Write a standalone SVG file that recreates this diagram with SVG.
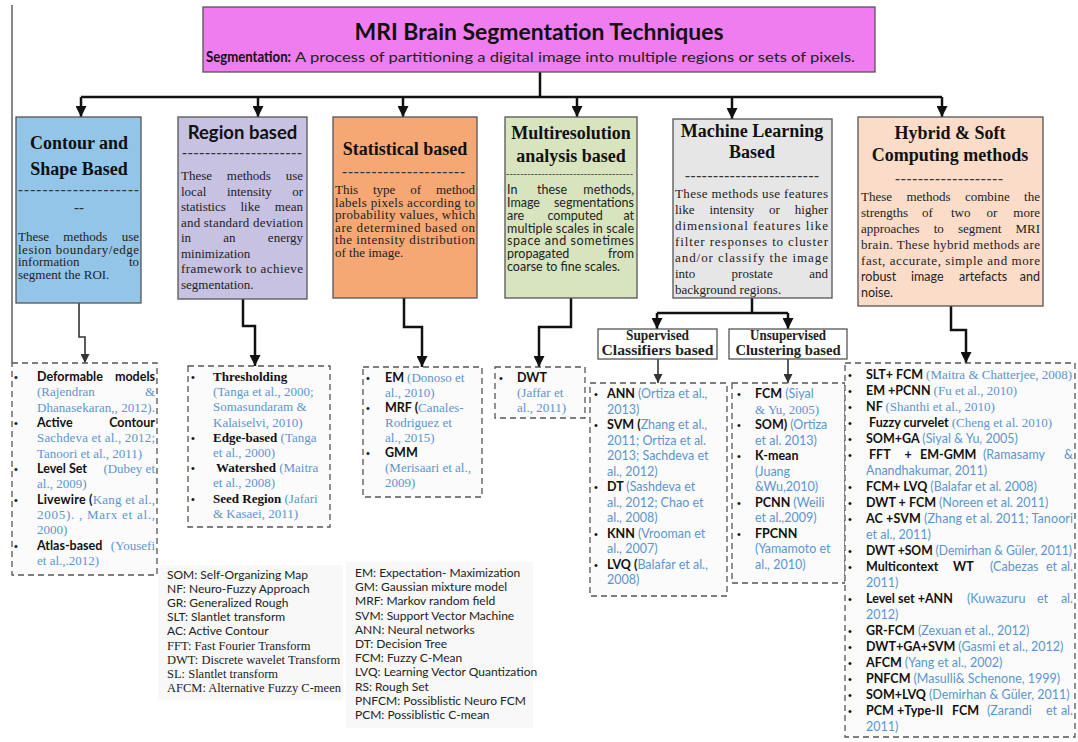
<svg xmlns="http://www.w3.org/2000/svg" width="1078" height="742" viewBox="0 0 1078 742">
<defs>
<style>
.ttl{font-family:"Liberation Serif","Times New Roman",serif;font-weight:bold;font-size:18px;fill:#111;text-anchor:middle}
.bd{font-family:"Liberation Serif","Times New Roman",serif;font-size:13px;fill:#222}
.bds{font-family:Lato,"Liberation Sans",sans-serif;font-size:12.5px;fill:#222}
.dash{font-family:"Liberation Serif",serif;font-weight:bold;font-size:15px;fill:#333}
.box{stroke:#555;stroke-width:1.3}
.lst{fill:#fbfbfb;stroke:#555;stroke-width:1.3;stroke-dasharray:6 4}
.li{font-family:Lato,"Liberation Sans",sans-serif;font-size:12.5px;fill:#111}
.lis{font-family:"Liberation Serif",serif;font-size:13px;fill:#111}
.b{font-weight:bold}
.ref{fill:#5b95cf;font-weight:normal}
.rs{font-family:"Liberation Serif",serif;font-size:13px}
.bu{font-family:"Liberation Sans",sans-serif;font-size:11px;fill:#111}
.con{fill:none;stroke:#111;stroke-width:2.5}
.con2{fill:none;stroke:#333;stroke-width:1.6}
.leg{font-family:Lato,"Liberation Sans",sans-serif;font-size:12px;fill:#222}
.legs{font-family:"Liberation Serif",serif;font-size:12.5px;fill:#222}
.sub{font-family:"Liberation Serif",serif;font-weight:bold;font-size:14px;fill:#222;text-anchor:middle}
.m{text-anchor:middle}
.e{text-anchor:end}
</style>
<marker id="ah" markerUnits="userSpaceOnUse" markerWidth="11" markerHeight="11" refX="10" refY="5" orient="auto" viewBox="0 0 10 10"><path d="M0,0 L10,5 L0,10 z" fill="#111"/></marker>
<marker id="ah2" markerUnits="userSpaceOnUse" markerWidth="9" markerHeight="9" refX="10" refY="5" orient="auto" viewBox="0 0 10 10"><path d="M0,0 L10,5 L0,10 z" fill="#333"/></marker>
</defs>
<rect width="1078" height="742" fill="#fff"/>
<line x1="12" y1="5" x2="12" y2="363" stroke="#888" stroke-width="2"/>

<g id="connectors">
<path class="con" d="M540,72 V97"/>
<path class="con" d="M81,97 H942"/>
<path class="con" d="M81,97 V117" marker-end="url(#ah)"/>
<path class="con" d="M258,97 V117" marker-end="url(#ah)"/>
<path class="con" d="M403,97 V117" marker-end="url(#ah)"/>
<path class="con" d="M577,97 V117" marker-end="url(#ah)"/>
<path class="con" d="M732,97 V119" marker-end="url(#ah)"/>
<path class="con" d="M942,97 V117" marker-end="url(#ah)"/>
<path class="con2" d="M79,303 V337 H85 V363" marker-end="url(#ah2)"/>
<path class="con" d="M243,299 V326 H255 V366" marker-end="url(#ah)"/>
<path class="con" d="M404,298 V327 H422 V367" marker-end="url(#ah)"/>
<path class="con" d="M571,298 V327 H539 V367" marker-end="url(#ah)"/>
<path class="con" d="M752,298 V313"/>
<path class="con" d="M657,313 H788"/>
<path class="con" d="M657,313 V329" marker-end="url(#ah)"/>
<path class="con" d="M788,313 V329" marker-end="url(#ah)"/>
<path class="con2" d="M658,359 V383" marker-end="url(#ah2)"/>
<path class="con2" d="M788,359 V383" marker-end="url(#ah2)"/>
<path class="con" d="M951,306 V330 H966 V363" marker-end="url(#ah)"/>
</g>

<g id="root">
<rect x="203" y="7" width="672" height="65" fill="#f07df0" class="box"/>
<text x="539" y="40" font-family="Lato,'Liberation Sans',sans-serif" font-weight="bold" font-size="22" fill="#111" text-anchor="middle" textLength="369" lengthAdjust="spacingAndGlyphs">MRI Brain Segmentation Techniques</text>
<text x="206" y="62" font-family="Lato,'Liberation Sans',sans-serif" font-weight="bold" font-size="15.5" fill="#111" textLength="85" lengthAdjust="spacingAndGlyphs">Segmentation:</text>
<text x="295" y="62" font-family="Lato,'Liberation Sans',sans-serif" font-size="14" fill="#222" textLength="560" lengthAdjust="spacingAndGlyphs">A process of partitioning a digital image into multiple regions or sets of pixels.</text>
</g>

<g id="contour">
<rect x="16" y="117" width="125" height="186" fill="#92c5e8" class="box"/>
<text class="ttl" x="79" y="149">Contour and</text>
<text class="ttl" x="79" y="175">Shape Based</text>
<text class="dash" x="18" y="194" textLength="121" lengthAdjust="spacing">--------------------</text>
<text class="dash m" x="79" y="212">--</text>
<text class="bd" x="18" y="241">These</text><text class="bd" x="63.3" y="241">methods</text><text class="bd e" x="139" y="241">use</text>
<text class="bd" x="18" y="253.5" textLength="121" lengthAdjust="spacing">lesion boundary/edge</text>
<text class="bd" x="18" y="266">information</text><text class="bd e" x="139" y="266">to</text>
<text class="bd" x="18" y="278.5">segment the ROI.</text>
</g>

<g id="region">
<rect x="178" y="117" width="129" height="182" fill="#c7c1e2" class="box"/>
<text x="242.5" y="139" font-family="Lato,'Liberation Sans',sans-serif" font-weight="bold" font-size="18.5" fill="#111" text-anchor="middle">Region based</text>
<text class="dash" x="182" y="157" font-size="13" textLength="120" lengthAdjust="spacing">---------------------</text>
<text class="bd" x="181" y="180">These</text><text class="bd" x="226.8" y="180">methods</text><text class="bd e" x="303" y="180">use</text>
<text class="bd" x="181" y="195.5">local</text><text class="bd" x="226.9" y="195.5">intensity</text><text class="bd e" x="303" y="195.5">or</text>
<text class="bd" x="181" y="211">statistics</text><text class="bd" x="240.5" y="211">like</text><text class="bd e" x="303" y="211">mean</text>
<text class="bd" x="181" y="226.5" textLength="122" lengthAdjust="spacing">and standard deviation</text>
<text class="bd" x="181" y="242">in</text><text class="bd" x="223.2" y="242">an</text><text class="bd e" x="303" y="242">energy</text>
<text class="bd" x="181" y="257.5">minimization</text>
<text class="bd" x="181" y="273" textLength="122" lengthAdjust="spacing">framework to achieve</text>
<text class="bd" x="181" y="288.5">segmentation.</text>
</g>

<g id="statistical">
<rect x="333" y="117" width="144" height="181" fill="#f5a874" class="box"/>
<text class="ttl" x="405" y="155">Statistical based</text>
<text class="dash" x="342" y="176" font-size="13" textLength="123" lengthAdjust="spacing">---------------------</text>
<text class="bd" x="335" y="194">This</text><text class="bd" x="373" y="194">type</text><text class="bd" x="410.3" y="194">of</text><text class="bd e" x="475" y="194">method</text>
<text class="bd" x="335" y="206.5" textLength="140" lengthAdjust="spacing">labels pixels according to</text>
<text class="bd" x="335" y="219" textLength="140" lengthAdjust="spacing">probability values, which</text>
<text class="bd" x="335" y="231.5" textLength="140" lengthAdjust="spacing">are determined based on</text>
<text class="bd" x="335" y="244" textLength="140" lengthAdjust="spacing">the intensity distribution</text>
<text class="bd" x="335" y="256.5">of the image.</text>
</g>

<g id="multiresolution">
<rect x="505" y="117" width="132" height="181" fill="#d8e4bd" class="box"/>
<text class="ttl" x="571" y="139">Multiresolution</text>
<text class="ttl" x="571" y="162">analysis based</text>
<text x="506" y="177" font-family="'Liberation Serif',serif" font-size="10" fill="#444" textLength="127" lengthAdjust="spacing">------------------------------------</text>
<text class="bds" x="507" y="194">In</text><text class="bds" x="537" y="194">these</text><text class="bds e" x="634" y="194">methods,</text>
<text class="bds" x="507" y="207">Image</text><text class="bds e" x="634" y="207">segmentations</text>
<text class="bds" x="507" y="220">are</text><text class="bds" x="547.5" y="220">computed</text><text class="bds e" x="634" y="220">at</text>
<text class="bds" x="507" y="232.5" textLength="127" lengthAdjust="spacing">multiple scales in scale</text>
<text class="bds" x="507" y="245" textLength="127" lengthAdjust="spacing">space and sometimes</text>
<text class="bds" x="507" y="258">propagated</text><text class="bds e" x="634" y="258">from</text>
<text class="bds" x="507" y="271">coarse to fine scales.</text>
</g>

<g id="machine-learning">
<rect x="673" y="119" width="159" height="179" fill="#e6e6e6" class="box"/>
<text class="ttl" x="752" y="137">Machine Learning</text>
<text class="ttl" x="752" y="158">Based</text>
<text class="dash" x="685" y="180" font-size="13" textLength="134" lengthAdjust="spacing">------------------------</text>
<text class="bd" x="675" y="198" textLength="153" lengthAdjust="spacing">These methods use features</text>
<text class="bd" x="675" y="214">like</text><text class="bd" x="709.4" y="214">intensity</text><text class="bd" x="769" y="214">or</text><text class="bd e" x="828" y="214">higher</text>
<text class="bd" x="675" y="230" textLength="153" lengthAdjust="spacing">dimensional features like</text>
<text class="bd" x="675" y="246" textLength="153" lengthAdjust="spacing">filter responses to cluster</text>
<text class="bd" x="675" y="262" textLength="153" lengthAdjust="spacing">and/or classify the image</text>
<text class="bd" x="675" y="278">into</text><text class="bd" x="731.6" y="278">prostate</text><text class="bd e" x="828" y="278">and</text>
<text class="bd" x="675" y="294">background regions.</text>
</g>

<g id="hybrid">
<rect x="858" y="117" width="185" height="189" fill="#fbdcc9" class="box"/>
<text class="ttl" x="950" y="139">Hybrid &amp; Soft</text>
<text class="ttl" x="950" y="161">Computing methods</text>
<text class="dash" x="895" y="183" font-size="13" textLength="108" lengthAdjust="spacing">-------------------</text>
<text class="bd" x="861" y="201">These</text><text class="bd" x="906.4" y="201">methods</text><text class="bd" x="964.9" y="201">combine</text><text class="bd e" x="1040" y="201">the</text>
<text class="bd" x="861" y="217">strengths</text><text class="bd" x="922" y="217">of</text><text class="bd" x="950.9" y="217">two</text><text class="bd" x="986.5" y="217">or</text><text class="bd e" x="1040" y="217">more</text>
<text class="bd" x="861" y="233">approaches</text><text class="bd" x="933.7" y="233">to</text><text class="bd" x="958" y="233">segment</text><text class="bd e" x="1040" y="233">MRI</text>
<text class="bd" x="861" y="249" textLength="179" lengthAdjust="spacing">brain. These hybrid methods are</text>
<text class="bd" x="861" y="265" textLength="179" lengthAdjust="spacing">fast, accurate, simple and more</text>
<text class="bds" x="861" y="281">robust</text><text class="bds" x="911" y="281">image</text><text class="bds" x="959" y="281">artefacts</text><text class="bds e" x="1040" y="281">and</text>
<text class="bds" x="861" y="297">noise.</text>
</g>

<g id="supervised">
<rect x="598" y="329" width="119" height="30" fill="#fff" class="box"/>
<text class="sub" x="657.5" y="340" textLength="63" lengthAdjust="spacingAndGlyphs">Supervised</text>
<text class="sub" x="657.5" y="355" textLength="112" lengthAdjust="spacingAndGlyphs">Classifiers based</text>
</g>
<g id="unsupervised">
<rect x="729" y="329" width="118" height="30" fill="#fff" class="box"/>
<text class="sub" x="788" y="340" textLength="76" lengthAdjust="spacingAndGlyphs">Unsupervised</text>
<text class="sub" x="788" y="355" textLength="105" lengthAdjust="spacingAndGlyphs">Clustering based</text>
</g>

<g id="contour-list">
<rect x="12" y="363" width="145" height="212" class="lst"/>
<text class="bu" x="14" y="381">•</text><text class="li b" x="37" y="381" font-size="13">Deformable</text><text class="li b e" x="155" y="381" font-size="13">models</text>
<text class="rs ref" x="37" y="396.3">(Rajendran</text><text class="rs ref e" x="155" y="396.3">&amp;</text>
<text class="rs ref" x="37" y="411.7" textLength="118" lengthAdjust="spacing">Dhanasekaran,, 2012).</text>
<text class="bu" x="14" y="427">•</text><text class="li b" x="37" y="427" font-size="13">Active</text><text class="li b e" x="155" y="427" font-size="13">Contour</text>
<text class="rs ref" x="37" y="442.3" textLength="118" lengthAdjust="spacing">Sachdeva et al., 2012;</text>
<text class="rs ref" x="37" y="457.7">Tanoori et al., 2011)</text>
<text class="bu" x="14" y="473">•</text><text class="li b" x="37" y="473" font-size="13">Level Set</text><text class="rs ref e" x="155" y="473">(Dubey et</text>
<text class="rs ref" x="37" y="488.3">al., 2009)</text>
<text class="bu" x="14" y="503.7">•</text><text class="li b" x="37" y="503.7" font-size="13" textLength="118" lengthAdjust="spacing">Livewire (<tspan class="rs ref">Kang et al.,</tspan></text>
<text class="rs ref" x="37" y="519" textLength="118" lengthAdjust="spacing">2005). , Marx et al.,</text>
<text class="rs ref" x="37" y="534.3">2000)</text>
<text class="bu" x="14" y="549.7">•</text><text class="li b" x="37" y="549.7" font-size="13">Atlas-based</text><text class="rs ref e" x="155" y="549.7">(Yousefi</text>
<text class="rs ref" x="37" y="565">et al.,.2012)</text>
</g>

<g id="region-list">
<rect x="188" y="366" width="142" height="161" class="lst"/>
<text class="bu" x="191" y="381">•</text><text class="lis b" x="213" y="381">Thresholding</text>
<text class="rs ref" x="213" y="396.2">(Tanga et al., 2000;</text>
<text class="rs ref" x="213" y="411.4">Somasundaram &amp;</text>
<text class="rs ref" x="213" y="426.6">Kalaiselvi, 2010)</text>
<text class="bu" x="191" y="441.8">•</text><text class="lis b" x="213" y="441.8">Edge-based <tspan class="ref">(Tanga</tspan></text>
<text class="rs ref" x="213" y="457">et al., 2000)</text>
<text class="bu" x="191" y="472.2">•</text><text class="lis b" x="216" y="472.2">Watershed <tspan class="ref">(Maitra</tspan></text>
<text class="rs ref" x="213" y="487.4">et al., 2008)</text>
<text class="bu" x="191" y="502.6">•</text><text class="lis b" x="213" y="502.6">Seed Region <tspan class="ref">(Jafari</tspan></text>
<text class="rs ref" x="213" y="517.8">&amp; Kasaei, 2011)</text>
</g>

<g id="statistical-list">
<rect x="363" y="367" width="119" height="130" class="lst"/>
<text class="bu" x="366" y="382">•</text><text class="li b" x="385" y="382">EM <tspan class="rs ref">(Donoso et</tspan></text>
<text class="rs ref" x="385" y="397">al., 2010)</text>
<text class="bu" x="366" y="412">•</text><text class="li b" x="385" y="412">MRF (<tspan class="rs ref">Canales-</tspan></text>
<text class="rs ref" x="385" y="427">Rodriguez et</text>
<text class="rs ref" x="385" y="442">al., 2015)</text>
<text class="bu" x="366" y="457">•</text><text class="li b" x="385" y="457">GMM</text>
<text class="rs ref" x="385" y="472">(Merisaari et al.,</text>
<text class="rs ref" x="385" y="487">2009)</text>
</g>

<g id="multiresolution-list">
<rect x="495" y="367" width="90" height="51" class="lst"/>
<text class="bu" x="499" y="382">•</text><text class="li b" x="517" y="382">DWT</text>
<text class="rs ref" x="517" y="397">(Jaffar et</text>
<text class="rs ref" x="517" y="412">al., 2011)</text>
</g>

<g id="supervised-list">
<rect x="590" y="383" width="137" height="213" class="lst"/>
<text class="bu" x="594" y="398">•</text><text class="li b" x="607" y="398">ANN <tspan class="ref">(Ortiza et al.,</tspan></text>
<text class="li ref" x="607" y="413.5">2013)</text>
<text class="bu" x="594" y="429">•</text><text class="li b" x="607" y="429">SVM (<tspan class="ref">Zhang et al.,</tspan></text>
<text class="li ref" x="607" y="444.5">2011; Ortiza et al.</text>
<text class="li ref" x="607" y="460">2013; Sachdeva et</text>
<text class="li ref" x="607" y="475.5">al., 2012)</text>
<text class="bu" x="594" y="491">•</text><text class="li b" x="607" y="491">DT  <tspan class="ref">(Sashdeva et</tspan></text>
<text class="li ref" x="607" y="506.5">al., 2012; Chao et</text>
<text class="li ref" x="607" y="522">al., 2008)</text>
<text class="bu" x="594" y="537.5">•</text><text class="li b" x="607" y="537.5">KNN <tspan class="ref">(Vrooman et</tspan></text>
<text class="li ref" x="607" y="553">al., 2007)</text>
<text class="bu" x="594" y="568.5">•</text><text class="li b" x="607" y="568.5">LVQ (<tspan class="ref">Balafar et al.,</tspan></text>
<text class="li ref" x="607" y="584">2008)</text>
</g>

<g id="unsupervised-list">
<rect x="732" y="383" width="113" height="200" class="lst"/>
<text class="bu" x="737" y="398">•</text><text class="li b" x="755" y="398">FCM <tspan class="ref">(Siyal</tspan></text>
<text class="rs ref" x="755" y="413.5">&amp; Yu, 2005)</text>
<text class="bu" x="737" y="429">•</text><text class="li b" x="755" y="429">SOM) <tspan class="ref">(Ortiza</tspan></text>
<text class="li ref" x="755" y="444.5">et al. 2013)</text>
<text class="bu" x="737" y="460">•</text><text class="li b" x="755" y="460">K-mean</text>
<text class="li ref" x="755" y="475.5">(Juang</text>
<text class="li ref" x="755" y="491">&amp;Wu,2010)</text>
<text class="bu" x="737" y="506.5">•</text><text class="li b" x="755" y="506.5">PCNN  <tspan class="ref">(Weili</tspan></text>
<text class="li ref" x="755" y="522">et al.,2009)</text>
<text class="bu" x="737" y="537.5">•</text><text class="li b" x="755" y="537.5">FPCNN</text>
<text class="li ref" x="755" y="553">(Yamamoto et</text>
<text class="li ref" x="755" y="568.5">al., 2010)</text>
</g>

<g id="hybrid-list">
<rect x="845" y="363" width="230" height="374" class="lst"/>
<text class="bu" x="848" y="379">•</text><text class="li b" x="866" y="379" textLength="206" lengthAdjust="spacing">SLT+ FCM <tspan class="rs ref">(Maitra &amp; Chatterjee, 2008)</tspan></text>
<text class="bu" x="848" y="395">•</text><text class="li b" x="866" y="395">EM +PCNN <tspan class="rs ref">(Fu et al., 2010)</tspan></text>
<text class="bu" x="848" y="411">•</text><text class="li b" x="866" y="411">NF <tspan class="rs ref">(Shanthi et al., 2010)</tspan></text>
<text class="bu" x="848" y="427">•</text><text class="li b" x="869" y="427">Fuzzy curvelet  <tspan class="rs ref">(Cheng et al. 2010)</tspan></text>
<text class="bu" x="848" y="443">•</text><text class="li b" x="866" y="443">SOM+GA <tspan class="ref">(Siyal &amp; Yu, 2005)</tspan></text>
<text class="bu" x="848" y="459">•</text><text class="li b" x="869" y="459">FFT</text><text class="li b m" x="908" y="459">+</text><text class="li b" x="920" y="459">EM-GMM</text><text class="li ref" x="983" y="459">(Ramasamy</text><text class="li ref e" x="1073" y="459">&amp;</text>
<text class="li ref" x="866" y="475">Anandhakumar, 2011)</text>
<text class="bu" x="848" y="491">•</text><text class="li b" x="866" y="491">FCM+ LVQ <tspan class="ref">(Balafar et al. 2008)</tspan></text>
<text class="bu" x="848" y="507">•</text><text class="li b" x="866" y="507">DWT + FCM <tspan class="ref">(Noreen et al. 2011)</tspan></text>
<text class="bu" x="848" y="523">•</text><text class="li b" x="866" y="523" textLength="207" lengthAdjust="spacing">AC +SVM <tspan class="ref">(Zhang et al. 2011; Tanoori</tspan></text>
<text class="li ref" x="866" y="539">et al., 2011)</text>
<text class="bu" x="848" y="555">•</text><text class="li b" x="866" y="555" textLength="206" lengthAdjust="spacingAndGlyphs">DWT +SOM <tspan class="ref">(Demirhan &amp; Güler, 2011)</tspan></text>
<text class="bu" x="848" y="571">•</text><text class="li b" x="866" y="571">Multicontext</text><text class="li b" x="953" y="571">WT</text><text class="li ref" x="990" y="571">(Cabezas</text><text class="li ref" x="1046" y="571">et</text><text class="li ref e" x="1073" y="571">al.</text>
<text class="li ref" x="866" y="587">2011)</text>
<text class="bu" x="848" y="603">•</text><text class="li b" x="866" y="603">Level set +ANN</text><text class="li ref" x="967" y="603">(Kuwazuru</text><text class="li ref" x="1037" y="603">et</text><text class="li ref e" x="1073" y="603">al.</text>
<text class="li ref" x="866" y="619">2012)</text>
<text class="bu" x="848" y="635">•</text><text class="li b" x="866" y="635">GR-FCM <tspan class="ref">(Zexuan et al., 2012)</tspan></text>
<text class="bu" x="848" y="651">•</text><text class="li b" x="866" y="651">DWT+GA+SVM <tspan class="ref">(Gasmi et al., 2012)</tspan></text>
<text class="bu" x="848" y="667">•</text><text class="li b" x="866" y="667">AFCM <tspan class="ref">(Yang et al., 2002)</tspan></text>
<text class="bu" x="848" y="683">•</text><text class="li b" x="866" y="683">PNFCM <tspan class="ref">(Masulli&amp; Schenone, 1999)</tspan></text>
<text class="bu" x="848" y="699">•</text><text class="li b" x="866" y="699">SOM+LVQ <tspan class="ref">(Demirhan &amp; Güler, 2011)</tspan></text>
<text class="bu" x="848" y="715">•</text><text class="li b" x="866" y="715">PCM</text><text class="li b" x="897" y="715">+Type-II</text><text class="li b" x="952" y="715">FCM</text><text class="li ref" x="987" y="715">(Zarandi</text><text class="li ref" x="1046" y="715">et</text><text class="li ref e" x="1073" y="715">al.</text>
<text class="li ref" x="866" y="731">2011)</text>
</g>

<g id="legend-left">
<rect x="158" y="565" width="185" height="135" fill="#f8f8f8"/>
<text class="leg" x="167" y="579">SOM: Self-Organizing Map</text>
<text class="leg" x="167" y="593.1">NF: Neuro-Fuzzy Approach</text>
<text class="leg" x="167" y="607.2">GR: Generalized Rough</text>
<text class="leg" x="167" y="621.3">SLT: Slantlet transform</text>
<text class="leg" x="167" y="635.4">AC: Active Contour</text>
<text class="legs" x="167" y="649.5">FFT: Fast Fourier Transform</text>
<text class="legs" x="167" y="663.6">DWT: Discrete wavelet Transform</text>
<text class="legs" x="167" y="677.7">SL: Slantlet transform</text>
<text class="legs" x="167" y="691.8">AFCM: Alternative Fuzzy C-meen</text>
</g>

<g id="legend-right">
<rect x="346" y="562" width="187" height="166" fill="#f8f8f8"/>
<text class="leg" x="355" y="577">EM: Expectation- Maximization</text>
<text class="leg" x="355" y="591.2">GM: Gaussian mixture model</text>
<text class="leg" x="355" y="605.4">MRF: Markov random field</text>
<text class="leg" x="355" y="619.6">SVM: Support Vector Machine</text>
<text class="leg" x="355" y="633.8">ANN: Neural networks</text>
<text class="leg" x="355" y="648">DT: Decision Tree</text>
<text class="leg" x="355" y="662.2">FCM: Fuzzy C-Mean</text>
<text class="leg" x="355" y="676.4">LVQ: Learning Vector Quantization</text>
<text class="leg" x="355" y="690.6">RS: Rough Set</text>
<text class="leg" x="355" y="704.8">PNFCM: Possiblistic Neuro FCM</text>
<text class="leg" x="355" y="719">PCM: Possiblistic C-mean</text>
</g>
</svg>
